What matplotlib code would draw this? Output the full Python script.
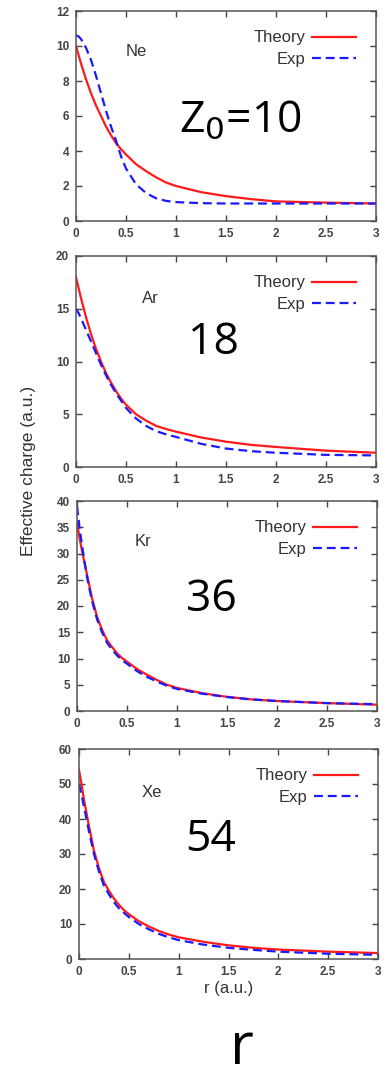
import matplotlib
matplotlib.use("Agg")
import matplotlib.pyplot as plt

r = [0, 0.025, 0.05, 0.1, 0.15, 0.2, 0.25, 0.3, 0.35, 0.4, 0.45, 0.5, 0.6, 0.7, 0.8, 0.9,
     1.0, 1.25, 1.5, 1.75, 2.0, 2.5, 3.0]

ne_theory = [10.0, 9.5, 9.0, 8.1, 7.3, 6.6, 6.0, 5.4, 4.9, 4.45, 4.1, 3.8, 3.25, 2.85, 2.5, 2.2,
             2.0, 1.65, 1.42, 1.25, 1.12, 1.05, 1.0]
ne_exp = [10.6, 10.55, 10.4, 9.9, 9.2, 8.3, 7.3, 6.3, 5.4, 4.6, 3.7, 3.0, 2.1, 1.6, 1.3, 1.15,
          1.08, 1.02, 1.0, 1.0, 1.0, 1.0, 1.0]
ar_theory = [18.0, 17.0, 16.0, 14.2, 12.6, 11.2, 10.0, 8.9, 8.0, 7.2, 6.5, 5.9, 5.0, 4.4, 3.9, 3.6,
             3.35, 2.8, 2.4, 2.1, 1.9, 1.55, 1.35]
ar_exp = [15.0, 14.6, 14.1, 13.0, 11.9, 10.8, 9.7, 8.7, 7.8, 7.0, 6.3, 5.6, 4.6, 3.9, 3.4, 3.1,
          2.85, 2.2, 1.75, 1.5, 1.35, 1.15, 1.1]
kr_theory = [36.0, 33.0, 30.5, 26.0, 21.5, 18.0, 15.5, 13.5, 12.2, 11.0, 10.1, 9.4, 8.0, 6.9, 5.9, 5.0,
             4.4, 3.4, 2.7, 2.2, 1.9, 1.5, 1.2]
kr_exp = [39.0, 35.0, 31.5, 25.5, 21.0, 17.5, 15.0, 13.0, 11.7, 10.6, 9.7, 9.0, 7.6, 6.5, 5.6, 4.8,
          4.2, 3.3, 2.65, 2.2, 1.9, 1.5, 1.3]
xe_theory = [54.0, 50.0, 45.5, 38.0, 31.0, 26.0, 22.0, 19.5, 17.3, 15.5, 14.0, 12.8, 10.8, 9.3, 8.0, 7.0,
             6.2, 4.9, 3.9, 3.2, 2.7, 2.1, 1.7]
xe_exp = [50.0, 47.0, 43.5, 36.5, 30.0, 25.0, 21.0, 18.5, 16.3, 14.5, 13.2, 12.0, 10.0, 8.5, 7.2, 6.2,
          5.4, 4.1, 3.2, 2.6, 2.1, 1.5, 1.2]

elements = ["Ne", "Ar", "Kr", "Xe"]
z_labels = ["Z$_0$=10", "18", "36", "54"]
ymax = [12, 20, 40, 60]
ystep = [2, 5, 5, 10]
theory = [ne_theory, ar_theory, kr_theory, xe_theory]
exp = [ne_exp, ar_exp, kr_exp, xe_exp]

# axes boxes in figure pixels (left, top, right, bottom)
W, H = 392, 1077
boxes = [(76, 11, 376, 221), (76, 256, 376, 467), (77, 501, 377, 711), (79, 749, 378, 959)]
el_pos = [(0.20, 0.805), (0.247, 0.80), (0.22, 0.805), (0.243, 0.795)]
z_pos = [(0.547, 0.48), (0.457, 0.59), (0.447, 0.53), (0.44, 0.567)]

fig = plt.figure(figsize=(W / 100, H / 100), dpi=100)
tick_col = "#444444"
for i in range(4):
    l, t, rr, b = boxes[i]
    ax = fig.add_axes([l / W, 1 - b / H, (rr - l) / W, (b - t) / H])
    ax.plot(r, theory[i], color="#ff1a1a", lw=1.6, label="Theory")
    ax.plot(r, exp[i], color="#1a1aff", lw=1.6, dashes=(4, 2.2), label="Exp")
    ax.set_xlim(0, 3)
    ax.set_ylim(0, ymax[i])
    ax.set_xticks([0, 0.5, 1, 1.5, 2, 2.5, 3])
    ax.set_xticklabels(["0", "0.5", "1", "1.5", "2", "2.5", "3"])
    ax.set_yticks(range(0, ymax[i] + 1, ystep[i]))
    ax.tick_params(direction="in", top=True, right=True, length=4, width=1,
                   labelsize=8.5, colors=tick_col, pad=5)
    for lab in ax.get_xticklabels() + ax.get_yticklabels():
        lab.set_fontfamily("Liberation Sans")
        lab.set_fontweight("bold")
    for s in ax.spines.values():
        s.set_color("#555555")
        s.set_linewidth(1.1)
    leg = ax.legend(loc="upper right", bbox_to_anchor=(0.965, 0.955), frameon=False,
                    markerfirst=False, handlelength=2.6, handletextpad=0.4,
                    labelspacing=0.4, borderaxespad=0.2,
                    prop={"family": "Liberation Sans", "size": 12})
    for txt in leg.get_texts():
        txt.set_color("#333333")
    ax.text(el_pos[i][0], el_pos[i][1], elements[i], transform=ax.transAxes,
            fontsize=12, family="Liberation Sans", color="#333333", va="center", ha="center")
    ax.text(z_pos[i][0], z_pos[i][1], z_labels[i], transform=ax.transAxes,
            fontsize=32, family="Open Sans", color="black", va="center", ha="center")
    if i == 3:
        ax.set_xlabel("r (a.u.)", fontsize=12, family="Liberation Sans", color="#333333", labelpad=2)

fig.text(29 / W, 1 - 471 / H, "Effective charge (a.u.)", rotation=90, fontsize=12.5,
         family="Liberation Sans", color="#333333", ha="center", va="center")
fig.text(242 / W, 1 - 1064 / H, "r", fontsize=42, family="Open Sans",
         color="black", ha="center", va="baseline")

fig.savefig("out.png", dpi=100)
